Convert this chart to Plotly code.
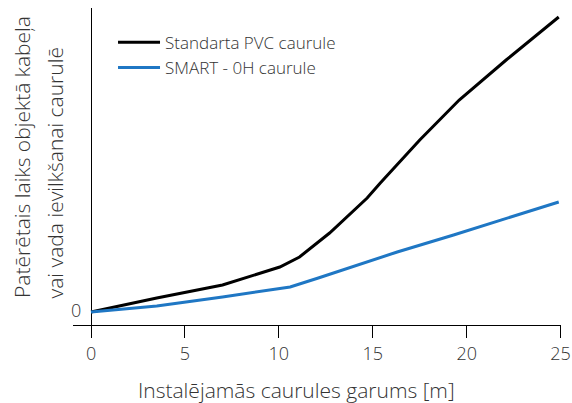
import plotly.graph_objects as go

# Data (relative time units)
x_std = [0, 3.5, 7.0, 10.05, 11.1, 12.7, 14.7, 15.4, 17.5, 19.6, 22.1, 24.9]
y_std = [0, 14, 27, 45, 55, 79, 114, 129, 172, 212, 252, 295]
x_smart = [0, 3.5, 7.0, 10.6, 12.1, 16.3, 19.3, 24.9]
y_smart = [0, 6, 15, 25, 34, 60, 77, 110]
x_ticks = [0, 5, 10, 15, 20, 25]
name_std = "Standarta PVC caurule"
name_smart = "SMART - 0H caurule"
x_title = "Instalējamās caurules garums [m]"
y_title_1 = "Patērētais laiks objektā kabeļa"
y_title_2 = "vai vada ievilkšanai caurulē"

FONT = "Open Sans"
TXT = "#333333"
W = 300

fig = go.Figure()
fig.add_trace(go.Scatter(x=x_std, y=y_std, mode="lines", name=name_std,
                         line=dict(color="#000000", width=3)))
fig.add_trace(go.Scatter(x=x_smart, y=y_smart, mode="lines", name=name_smart,
                         line=dict(color="#1f77c4", width=3)))

fig.update_layout(
    width=572, height=403,
    margin=dict(l=73, r=11, t=8, b=78, autoexpand=False),
    paper_bgcolor="white", plot_bgcolor="white",
    font=dict(family=FONT, color=TXT, weight=W),
    showlegend=True,
    legend=dict(x=0.082, y=0.947, xanchor="left", yanchor="top",
                bgcolor="rgba(0,0,0,0)", font=dict(size=17, color=TXT, weight=W),
                itemwidth=42, tracegroupgap=0),
    xaxis=dict(range=[-0.96, 25.02], tickvals=x_ticks, ticks="outside", ticklen=12,
               tickcolor="#000", tickwidth=1, showline=True, linecolor="#000",
               linewidth=1, showgrid=False, zeroline=True, zerolinecolor="#000",
               zerolinewidth=1, automargin=False,
               tickfont=dict(size=18, color=TXT, weight=W)),
    yaxis=dict(range=[-13, 304], showticklabels=False, showgrid=False,
               zeroline=False, showline=False, ticks="", automargin=False),
    annotations=[
        dict(text="0", x=-0.8, y=2, xref="x", yref="y", showarrow=False,
             xanchor="center", yanchor="middle", font=dict(size=18, color=TXT, weight=W)),
        dict(text=x_title, x=0.459, y=-0.205, xref="paper", yref="paper",
             showarrow=False, xanchor="center", yanchor="middle",
             font=dict(size=21, color=TXT, weight=W)),
        dict(text=y_title_1, x=-0.1045, y=0.079, xref="paper", yref="paper",
             showarrow=False, textangle=-90, xanchor="center", yanchor="bottom",
             font=dict(size=21, color=TXT, weight=W)),
        dict(text=y_title_2, x=-0.0369, y=0.079, xref="paper", yref="paper",
             showarrow=False, textangle=-90, xanchor="center", yanchor="bottom",
             font=dict(size=21, color=TXT, weight=W)),
    ],
)

fig.write_html("out.html", config={"displayModeBar": False},
               post_script="document.body.style.margin='0';document.body.style.overflow='hidden';")
